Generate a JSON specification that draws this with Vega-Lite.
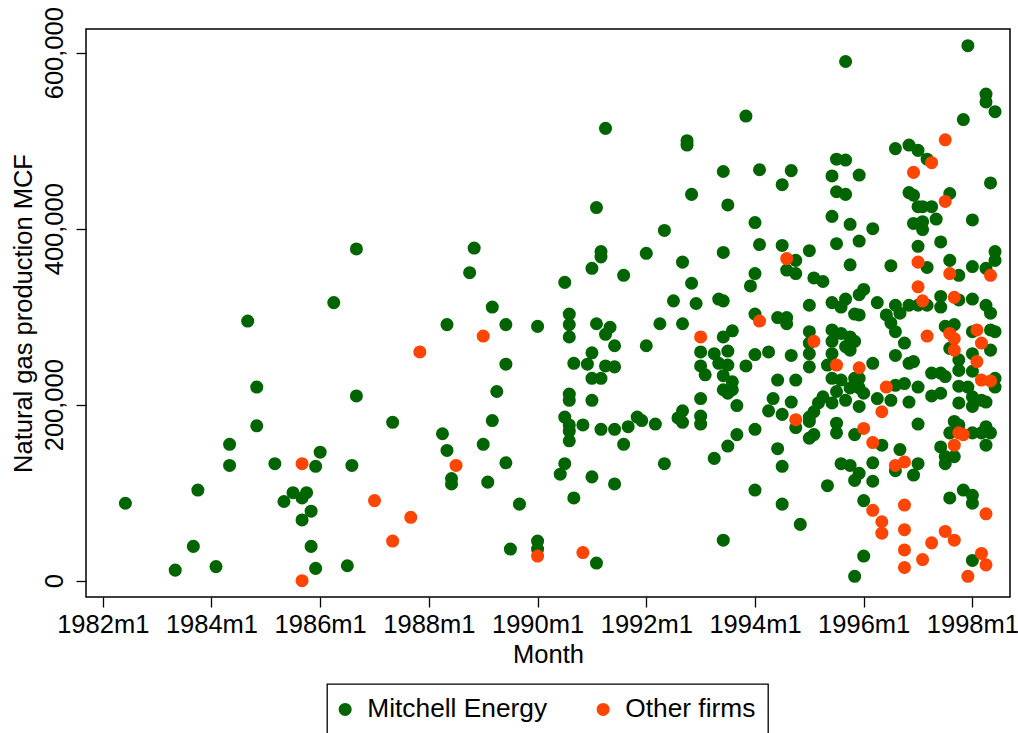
{
  "$schema": "https://vega.github.io/schema/vega-lite/v6.json",
  "width": 924,
  "height": 568,
  "autosize": {"type": "none"},
  "padding": {"left": 86, "top": 29, "right": 8, "bottom": 136},
  "background": "white",
  "data": {
    "values": [
      {"month": 320, "mcf": 377000, "firm": "Mitchell Energy"},
      {"month": 315, "mcf": 316000, "firm": "Mitchell Energy"},
      {"month": 296, "mcf": 295000, "firm": "Mitchell Energy"},
      {"month": 298, "mcf": 220000, "firm": "Mitchell Energy"},
      {"month": 320, "mcf": 210000, "firm": "Mitchell Energy"},
      {"month": 328, "mcf": 180000, "firm": "Mitchell Energy"},
      {"month": 298, "mcf": 176000, "firm": "Mitchell Energy"},
      {"month": 292, "mcf": 155000, "firm": "Mitchell Energy"},
      {"month": 312, "mcf": 146000, "firm": "Mitchell Energy"},
      {"month": 292, "mcf": 131000, "firm": "Mitchell Energy"},
      {"month": 302, "mcf": 133000, "firm": "Mitchell Energy"},
      {"month": 311, "mcf": 130000, "firm": "Mitchell Energy"},
      {"month": 319, "mcf": 131000, "firm": "Mitchell Energy"},
      {"month": 285, "mcf": 103000, "firm": "Mitchell Energy"},
      {"month": 269, "mcf": 88000, "firm": "Mitchell Energy"},
      {"month": 306, "mcf": 100000, "firm": "Mitchell Energy"},
      {"month": 309, "mcf": 100000, "firm": "Mitchell Energy"},
      {"month": 304, "mcf": 90000, "firm": "Mitchell Energy"},
      {"month": 308, "mcf": 94000, "firm": "Mitchell Energy"},
      {"month": 310, "mcf": 79000, "firm": "Mitchell Energy"},
      {"month": 308, "mcf": 69000, "firm": "Mitchell Energy"},
      {"month": 284, "mcf": 39000, "firm": "Mitchell Energy"},
      {"month": 310, "mcf": 39000, "firm": "Mitchell Energy"},
      {"month": 280, "mcf": 12000, "firm": "Mitchell Energy"},
      {"month": 289, "mcf": 16000, "firm": "Mitchell Energy"},
      {"month": 311, "mcf": 14000, "firm": "Mitchell Energy"},
      {"month": 318, "mcf": 17000, "firm": "Mitchell Energy"},
      {"month": 375, "mcf": 514000, "firm": "Mitchell Energy"},
      {"month": 373, "mcf": 424000, "firm": "Mitchell Energy"},
      {"month": 346, "mcf": 378000, "firm": "Mitchell Energy"},
      {"month": 345, "mcf": 350000, "firm": "Mitchell Energy"},
      {"month": 374, "mcf": 374000, "firm": "Mitchell Energy"},
      {"month": 374, "mcf": 368000, "firm": "Mitchell Energy"},
      {"month": 372, "mcf": 355000, "firm": "Mitchell Energy"},
      {"month": 379, "mcf": 347000, "firm": "Mitchell Energy"},
      {"month": 366, "mcf": 339000, "firm": "Mitchell Energy"},
      {"month": 350, "mcf": 311000, "firm": "Mitchell Energy"},
      {"month": 340, "mcf": 291000, "firm": "Mitchell Energy"},
      {"month": 353, "mcf": 291000, "firm": "Mitchell Energy"},
      {"month": 360, "mcf": 289000, "firm": "Mitchell Energy"},
      {"month": 367, "mcf": 303000, "firm": "Mitchell Energy"},
      {"month": 367, "mcf": 291000, "firm": "Mitchell Energy"},
      {"month": 367, "mcf": 277000, "firm": "Mitchell Energy"},
      {"month": 373, "mcf": 292000, "firm": "Mitchell Energy"},
      {"month": 376, "mcf": 288000, "firm": "Mitchell Energy"},
      {"month": 375, "mcf": 280000, "firm": "Mitchell Energy"},
      {"month": 377, "mcf": 267000, "firm": "Mitchell Energy"},
      {"month": 353, "mcf": 246000, "firm": "Mitchell Energy"},
      {"month": 372, "mcf": 259000, "firm": "Mitchell Energy"},
      {"month": 368, "mcf": 247000, "firm": "Mitchell Energy"},
      {"month": 371, "mcf": 246000, "firm": "Mitchell Energy"},
      {"month": 375, "mcf": 244000, "firm": "Mitchell Energy"},
      {"month": 377, "mcf": 243000, "firm": "Mitchell Energy"},
      {"month": 372, "mcf": 230000, "firm": "Mitchell Energy"},
      {"month": 374, "mcf": 230000, "firm": "Mitchell Energy"},
      {"month": 351, "mcf": 215000, "firm": "Mitchell Energy"},
      {"month": 367, "mcf": 212000, "firm": "Mitchell Energy"},
      {"month": 367, "mcf": 205000, "firm": "Mitchell Energy"},
      {"month": 372, "mcf": 205000, "firm": "Mitchell Energy"},
      {"month": 350, "mcf": 182000, "firm": "Mitchell Energy"},
      {"month": 366, "mcf": 186000, "firm": "Mitchell Energy"},
      {"month": 367, "mcf": 177000, "firm": "Mitchell Energy"},
      {"month": 367, "mcf": 170000, "firm": "Mitchell Energy"},
      {"month": 370, "mcf": 177000, "firm": "Mitchell Energy"},
      {"month": 374, "mcf": 172000, "firm": "Mitchell Energy"},
      {"month": 377, "mcf": 172000, "firm": "Mitchell Energy"},
      {"month": 380, "mcf": 175000, "firm": "Mitchell Energy"},
      {"month": 379, "mcf": 155000, "firm": "Mitchell Energy"},
      {"month": 367, "mcf": 159000, "firm": "Mitchell Energy"},
      {"month": 339, "mcf": 167000, "firm": "Mitchell Energy"},
      {"month": 340, "mcf": 148000, "firm": "Mitchell Energy"},
      {"month": 348, "mcf": 155000, "firm": "Mitchell Energy"},
      {"month": 353, "mcf": 134000, "firm": "Mitchell Energy"},
      {"month": 366, "mcf": 133000, "firm": "Mitchell Energy"},
      {"month": 365, "mcf": 121000, "firm": "Mitchell Energy"},
      {"month": 372, "mcf": 118000, "firm": "Mitchell Energy"},
      {"month": 377, "mcf": 110000, "firm": "Mitchell Energy"},
      {"month": 341, "mcf": 116000, "firm": "Mitchell Energy"},
      {"month": 341, "mcf": 110000, "firm": "Mitchell Energy"},
      {"month": 349, "mcf": 112000, "firm": "Mitchell Energy"},
      {"month": 368, "mcf": 94000, "firm": "Mitchell Energy"},
      {"month": 356, "mcf": 87000, "firm": "Mitchell Energy"},
      {"month": 354, "mcf": 36000, "firm": "Mitchell Energy"},
      {"month": 360, "mcf": 45000, "firm": "Mitchell Energy"},
      {"month": 360, "mcf": 36000, "firm": "Mitchell Energy"},
      {"month": 373, "mcf": 20000, "firm": "Mitchell Energy"},
      {"month": 406, "mcf": 528000, "firm": "Mitchell Energy"},
      {"month": 393, "mcf": 500000, "firm": "Mitchell Energy"},
      {"month": 393, "mcf": 495000, "firm": "Mitchell Energy"},
      {"month": 401, "mcf": 465000, "firm": "Mitchell Energy"},
      {"month": 409, "mcf": 467000, "firm": "Mitchell Energy"},
      {"month": 416, "mcf": 466000, "firm": "Mitchell Energy"},
      {"month": 414, "mcf": 450000, "firm": "Mitchell Energy"},
      {"month": 394, "mcf": 439000, "firm": "Mitchell Energy"},
      {"month": 402, "mcf": 427000, "firm": "Mitchell Energy"},
      {"month": 408, "mcf": 407000, "firm": "Mitchell Energy"},
      {"month": 388, "mcf": 398000, "firm": "Mitchell Energy"},
      {"month": 384, "mcf": 372000, "firm": "Mitchell Energy"},
      {"month": 401, "mcf": 373000, "firm": "Mitchell Energy"},
      {"month": 409, "mcf": 382000, "firm": "Mitchell Energy"},
      {"month": 414, "mcf": 381000, "firm": "Mitchell Energy"},
      {"month": 392, "mcf": 362000, "firm": "Mitchell Energy"},
      {"month": 408, "mcf": 349000, "firm": "Mitchell Energy"},
      {"month": 407, "mcf": 335000, "firm": "Mitchell Energy"},
      {"month": 394, "mcf": 338000, "firm": "Mitchell Energy"},
      {"month": 390, "mcf": 318000, "firm": "Mitchell Energy"},
      {"month": 395, "mcf": 315000, "firm": "Mitchell Energy"},
      {"month": 400, "mcf": 320000, "firm": "Mitchell Energy"},
      {"month": 401, "mcf": 318000, "firm": "Mitchell Energy"},
      {"month": 387, "mcf": 292000, "firm": "Mitchell Energy"},
      {"month": 392, "mcf": 292000, "firm": "Mitchell Energy"},
      {"month": 408, "mcf": 303000, "firm": "Mitchell Energy"},
      {"month": 413, "mcf": 299000, "firm": "Mitchell Energy"},
      {"month": 415, "mcf": 299000, "firm": "Mitchell Energy"},
      {"month": 415, "mcf": 292000, "firm": "Mitchell Energy"},
      {"month": 403, "mcf": 284000, "firm": "Mitchell Energy"},
      {"month": 401, "mcf": 277000, "firm": "Mitchell Energy"},
      {"month": 417, "mcf": 364000, "firm": "Mitchell Energy"},
      {"month": 417, "mcf": 349000, "firm": "Mitchell Energy"},
      {"month": 415, "mcf": 353000, "firm": "Mitchell Energy"},
      {"month": 384, "mcf": 267000, "firm": "Mitchell Energy"},
      {"month": 396, "mcf": 260000, "firm": "Mitchell Energy"},
      {"month": 399, "mcf": 258000, "firm": "Mitchell Energy"},
      {"month": 402, "mcf": 261000, "firm": "Mitchell Energy"},
      {"month": 408, "mcf": 257000, "firm": "Mitchell Energy"},
      {"month": 411, "mcf": 260000, "firm": "Mitchell Energy"},
      {"month": 416, "mcf": 256000, "firm": "Mitchell Energy"},
      {"month": 396, "mcf": 244000, "firm": "Mitchell Energy"},
      {"month": 397, "mcf": 234000, "firm": "Mitchell Energy"},
      {"month": 400, "mcf": 247000, "firm": "Mitchell Energy"},
      {"month": 402, "mcf": 245000, "firm": "Mitchell Energy"},
      {"month": 406, "mcf": 244000, "firm": "Mitchell Energy"},
      {"month": 401, "mcf": 233000, "firm": "Mitchell Energy"},
      {"month": 403, "mcf": 226000, "firm": "Mitchell Energy"},
      {"month": 401, "mcf": 217000, "firm": "Mitchell Energy"},
      {"month": 403, "mcf": 217000, "firm": "Mitchell Energy"},
      {"month": 402, "mcf": 213000, "firm": "Mitchell Energy"},
      {"month": 413, "mcf": 228000, "firm": "Mitchell Energy"},
      {"month": 417, "mcf": 228000, "firm": "Mitchell Energy"},
      {"month": 396, "mcf": 207000, "firm": "Mitchell Energy"},
      {"month": 404, "mcf": 199000, "firm": "Mitchell Energy"},
      {"month": 412, "mcf": 207000, "firm": "Mitchell Energy"},
      {"month": 416, "mcf": 203000, "firm": "Mitchell Energy"},
      {"month": 411, "mcf": 193000, "firm": "Mitchell Energy"},
      {"month": 414, "mcf": 189000, "firm": "Mitchell Energy"},
      {"month": 417, "mcf": 174000, "firm": "Mitchell Energy"},
      {"month": 392, "mcf": 193000, "firm": "Mitchell Energy"},
      {"month": 391, "mcf": 185000, "firm": "Mitchell Energy"},
      {"month": 392, "mcf": 180000, "firm": "Mitchell Energy"},
      {"month": 396, "mcf": 187000, "firm": "Mitchell Energy"},
      {"month": 396, "mcf": 178000, "firm": "Mitchell Energy"},
      {"month": 382, "mcf": 186000, "firm": "Mitchell Energy"},
      {"month": 383, "mcf": 182000, "firm": "Mitchell Energy"},
      {"month": 386, "mcf": 178000, "firm": "Mitchell Energy"},
      {"month": 388, "mcf": 133000, "firm": "Mitchell Energy"},
      {"month": 399, "mcf": 139000, "firm": "Mitchell Energy"},
      {"month": 402, "mcf": 153000, "firm": "Mitchell Energy"},
      {"month": 404, "mcf": 166000, "firm": "Mitchell Energy"},
      {"month": 408, "mcf": 172000, "firm": "Mitchell Energy"},
      {"month": 413, "mcf": 150000, "firm": "Mitchell Energy"},
      {"month": 414, "mcf": 130000, "firm": "Mitchell Energy"},
      {"month": 408, "mcf": 103000, "firm": "Mitchell Energy"},
      {"month": 414, "mcf": 87000, "firm": "Mitchell Energy"},
      {"month": 418, "mcf": 64000, "firm": "Mitchell Energy"},
      {"month": 401, "mcf": 46000, "firm": "Mitchell Energy"},
      {"month": 428, "mcf": 590000, "firm": "Mitchell Energy"},
      {"month": 439, "mcf": 491000, "firm": "Mitchell Energy"},
      {"month": 426, "mcf": 479000, "firm": "Mitchell Energy"},
      {"month": 428, "mcf": 478000, "firm": "Mitchell Energy"},
      {"month": 425, "mcf": 460000, "firm": "Mitchell Energy"},
      {"month": 431, "mcf": 461000, "firm": "Mitchell Energy"},
      {"month": 426, "mcf": 442000, "firm": "Mitchell Energy"},
      {"month": 428, "mcf": 439000, "firm": "Mitchell Energy"},
      {"month": 425, "mcf": 414000, "firm": "Mitchell Energy"},
      {"month": 429, "mcf": 405000, "firm": "Mitchell Energy"},
      {"month": 434, "mcf": 400000, "firm": "Mitchell Energy"},
      {"month": 426, "mcf": 383000, "firm": "Mitchell Energy"},
      {"month": 431, "mcf": 386000, "firm": "Mitchell Energy"},
      {"month": 429, "mcf": 359000, "firm": "Mitchell Energy"},
      {"month": 438, "mcf": 358000, "firm": "Mitchell Energy"},
      {"month": 420, "mcf": 375000, "firm": "Mitchell Energy"},
      {"month": 421, "mcf": 344000, "firm": "Mitchell Energy"},
      {"month": 423, "mcf": 340000, "firm": "Mitchell Energy"},
      {"month": 420, "mcf": 313000, "firm": "Mitchell Energy"},
      {"month": 425, "mcf": 316000, "firm": "Mitchell Energy"},
      {"month": 427, "mcf": 311000, "firm": "Mitchell Energy"},
      {"month": 428, "mcf": 320000, "firm": "Mitchell Energy"},
      {"month": 431, "mcf": 325000, "firm": "Mitchell Energy"},
      {"month": 432, "mcf": 331000, "firm": "Mitchell Energy"},
      {"month": 435, "mcf": 316000, "firm": "Mitchell Energy"},
      {"month": 430, "mcf": 303000, "firm": "Mitchell Energy"},
      {"month": 431, "mcf": 302000, "firm": "Mitchell Energy"},
      {"month": 437, "mcf": 302000, "firm": "Mitchell Energy"},
      {"month": 439, "mcf": 313000, "firm": "Mitchell Energy"},
      {"month": 420, "mcf": 283000, "firm": "Mitchell Energy"},
      {"month": 420, "mcf": 270000, "firm": "Mitchell Energy"},
      {"month": 425, "mcf": 285000, "firm": "Mitchell Energy"},
      {"month": 427, "mcf": 281000, "firm": "Mitchell Energy"},
      {"month": 429, "mcf": 277000, "firm": "Mitchell Energy"},
      {"month": 430, "mcf": 272000, "firm": "Mitchell Energy"},
      {"month": 425, "mcf": 272000, "firm": "Mitchell Energy"},
      {"month": 425, "mcf": 258000, "firm": "Mitchell Energy"},
      {"month": 428, "mcf": 266000, "firm": "Mitchell Energy"},
      {"month": 429, "mcf": 262000, "firm": "Mitchell Energy"},
      {"month": 420, "mcf": 258000, "firm": "Mitchell Energy"},
      {"month": 420, "mcf": 243000, "firm": "Mitchell Energy"},
      {"month": 434, "mcf": 247000, "firm": "Mitchell Energy"},
      {"month": 424, "mcf": 245000, "firm": "Mitchell Energy"},
      {"month": 425, "mcf": 230000, "firm": "Mitchell Energy"},
      {"month": 427, "mcf": 228000, "firm": "Mitchell Energy"},
      {"month": 430, "mcf": 230000, "firm": "Mitchell Energy"},
      {"month": 431, "mcf": 230000, "firm": "Mitchell Energy"},
      {"month": 429, "mcf": 219000, "firm": "Mitchell Energy"},
      {"month": 431, "mcf": 219000, "firm": "Mitchell Energy"},
      {"month": 432, "mcf": 213000, "firm": "Mitchell Energy"},
      {"month": 426, "mcf": 215000, "firm": "Mitchell Energy"},
      {"month": 425, "mcf": 202000, "firm": "Mitchell Energy"},
      {"month": 423, "mcf": 209000, "firm": "Mitchell Energy"},
      {"month": 422, "mcf": 202000, "firm": "Mitchell Energy"},
      {"month": 421, "mcf": 192000, "firm": "Mitchell Energy"},
      {"month": 420, "mcf": 186000, "firm": "Mitchell Energy"},
      {"month": 428, "mcf": 205000, "firm": "Mitchell Energy"},
      {"month": 431, "mcf": 198000, "firm": "Mitchell Energy"},
      {"month": 435, "mcf": 207000, "firm": "Mitchell Energy"},
      {"month": 438, "mcf": 205000, "firm": "Mitchell Energy"},
      {"month": 439, "mcf": 222000, "firm": "Mitchell Energy"},
      {"month": 420, "mcf": 181000, "firm": "Mitchell Energy"},
      {"month": 426, "mcf": 179000, "firm": "Mitchell Energy"},
      {"month": 426, "mcf": 168000, "firm": "Mitchell Energy"},
      {"month": 420, "mcf": 162000, "firm": "Mitchell Energy"},
      {"month": 421, "mcf": 166000, "firm": "Mitchell Energy"},
      {"month": 430, "mcf": 166000, "firm": "Mitchell Energy"},
      {"month": 436, "mcf": 154000, "firm": "Mitchell Energy"},
      {"month": 440, "mcf": 149000, "firm": "Mitchell Energy"},
      {"month": 427, "mcf": 133000, "firm": "Mitchell Energy"},
      {"month": 429, "mcf": 131000, "firm": "Mitchell Energy"},
      {"month": 431, "mcf": 122000, "firm": "Mitchell Energy"},
      {"month": 430, "mcf": 114000, "firm": "Mitchell Energy"},
      {"month": 434, "mcf": 134000, "firm": "Mitchell Energy"},
      {"month": 434, "mcf": 113000, "firm": "Mitchell Energy"},
      {"month": 424, "mcf": 108000, "firm": "Mitchell Energy"},
      {"month": 439, "mcf": 125000, "firm": "Mitchell Energy"},
      {"month": 432, "mcf": 91000, "firm": "Mitchell Energy"},
      {"month": 432, "mcf": 28000, "firm": "Mitchell Energy"},
      {"month": 430, "mcf": 5000, "firm": "Mitchell Energy"},
      {"month": 455, "mcf": 608000, "firm": "Mitchell Energy"},
      {"month": 459, "mcf": 553000, "firm": "Mitchell Energy"},
      {"month": 459, "mcf": 544000, "firm": "Mitchell Energy"},
      {"month": 461, "mcf": 533000, "firm": "Mitchell Energy"},
      {"month": 454, "mcf": 524000, "firm": "Mitchell Energy"},
      {"month": 442, "mcf": 495000, "firm": "Mitchell Energy"},
      {"month": 444, "mcf": 489000, "firm": "Mitchell Energy"},
      {"month": 446, "mcf": 479000, "firm": "Mitchell Energy"},
      {"month": 460, "mcf": 452000, "firm": "Mitchell Energy"},
      {"month": 442, "mcf": 441000, "firm": "Mitchell Energy"},
      {"month": 443, "mcf": 438000, "firm": "Mitchell Energy"},
      {"month": 451, "mcf": 440000, "firm": "Mitchell Energy"},
      {"month": 444, "mcf": 425000, "firm": "Mitchell Energy"},
      {"month": 445, "mcf": 425000, "firm": "Mitchell Energy"},
      {"month": 447, "mcf": 425000, "firm": "Mitchell Energy"},
      {"month": 443, "mcf": 406000, "firm": "Mitchell Energy"},
      {"month": 445, "mcf": 408000, "firm": "Mitchell Energy"},
      {"month": 445, "mcf": 399000, "firm": "Mitchell Energy"},
      {"month": 448, "mcf": 411000, "firm": "Mitchell Energy"},
      {"month": 456, "mcf": 410000, "firm": "Mitchell Energy"},
      {"month": 444, "mcf": 380000, "firm": "Mitchell Energy"},
      {"month": 449, "mcf": 385000, "firm": "Mitchell Energy"},
      {"month": 446, "mcf": 356000, "firm": "Mitchell Energy"},
      {"month": 451, "mcf": 364000, "firm": "Mitchell Energy"},
      {"month": 453, "mcf": 347000, "firm": "Mitchell Energy"},
      {"month": 456, "mcf": 357000, "firm": "Mitchell Energy"},
      {"month": 459, "mcf": 355000, "firm": "Mitchell Energy"},
      {"month": 461, "mcf": 374000, "firm": "Mitchell Energy"},
      {"month": 461, "mcf": 364000, "firm": "Mitchell Energy"},
      {"month": 440, "mcf": 304000, "firm": "Mitchell Energy"},
      {"month": 442, "mcf": 313000, "firm": "Mitchell Energy"},
      {"month": 444, "mcf": 313000, "firm": "Mitchell Energy"},
      {"month": 446, "mcf": 313000, "firm": "Mitchell Energy"},
      {"month": 449, "mcf": 323000, "firm": "Mitchell Energy"},
      {"month": 449, "mcf": 311000, "firm": "Mitchell Energy"},
      {"month": 453, "mcf": 319000, "firm": "Mitchell Energy"},
      {"month": 456, "mcf": 320000, "firm": "Mitchell Energy"},
      {"month": 459, "mcf": 313000, "firm": "Mitchell Energy"},
      {"month": 460, "mcf": 304000, "firm": "Mitchell Energy"},
      {"month": 438, "mcf": 293000, "firm": "Mitchell Energy"},
      {"month": 439, "mcf": 283000, "firm": "Mitchell Energy"},
      {"month": 441, "mcf": 270000, "firm": "Mitchell Energy"},
      {"month": 439, "mcf": 256000, "firm": "Mitchell Energy"},
      {"month": 442, "mcf": 247000, "firm": "Mitchell Energy"},
      {"month": 443, "mcf": 249000, "firm": "Mitchell Energy"},
      {"month": 450, "mcf": 289000, "firm": "Mitchell Energy"},
      {"month": 452, "mcf": 291000, "firm": "Mitchell Energy"},
      {"month": 451, "mcf": 264000, "firm": "Mitchell Energy"},
      {"month": 456, "mcf": 283000, "firm": "Mitchell Energy"},
      {"month": 460, "mcf": 285000, "firm": "Mitchell Energy"},
      {"month": 461, "mcf": 283000, "firm": "Mitchell Energy"},
      {"month": 460, "mcf": 262000, "firm": "Mitchell Energy"},
      {"month": 456, "mcf": 258000, "firm": "Mitchell Energy"},
      {"month": 453, "mcf": 251000, "firm": "Mitchell Energy"},
      {"month": 453, "mcf": 239000, "firm": "Mitchell Energy"},
      {"month": 456, "mcf": 238000, "firm": "Mitchell Energy"},
      {"month": 461, "mcf": 230000, "firm": "Mitchell Energy"},
      {"month": 461, "mcf": 220000, "firm": "Mitchell Energy"},
      {"month": 447, "mcf": 236000, "firm": "Mitchell Energy"},
      {"month": 449, "mcf": 236000, "firm": "Mitchell Energy"},
      {"month": 450, "mcf": 232000, "firm": "Mitchell Energy"},
      {"month": 441, "mcf": 224000, "firm": "Mitchell Energy"},
      {"month": 444, "mcf": 220000, "firm": "Mitchell Energy"},
      {"month": 447, "mcf": 210000, "firm": "Mitchell Energy"},
      {"month": 449, "mcf": 213000, "firm": "Mitchell Energy"},
      {"month": 453, "mcf": 221000, "firm": "Mitchell Energy"},
      {"month": 455, "mcf": 220000, "firm": "Mitchell Energy"},
      {"month": 456, "mcf": 209000, "firm": "Mitchell Energy"},
      {"month": 456, "mcf": 198000, "firm": "Mitchell Energy"},
      {"month": 458, "mcf": 205000, "firm": "Mitchell Energy"},
      {"month": 459, "mcf": 203000, "firm": "Mitchell Energy"},
      {"month": 442, "mcf": 203000, "firm": "Mitchell Energy"},
      {"month": 453, "mcf": 202000, "firm": "Mitchell Energy"},
      {"month": 444, "mcf": 178000, "firm": "Mitchell Energy"},
      {"month": 452, "mcf": 181000, "firm": "Mitchell Energy"},
      {"month": 453, "mcf": 177000, "firm": "Mitchell Energy"},
      {"month": 451, "mcf": 168000, "firm": "Mitchell Energy"},
      {"month": 456, "mcf": 168000, "firm": "Mitchell Energy"},
      {"month": 458, "mcf": 168000, "firm": "Mitchell Energy"},
      {"month": 459, "mcf": 175000, "firm": "Mitchell Energy"},
      {"month": 460, "mcf": 168000, "firm": "Mitchell Energy"},
      {"month": 459, "mcf": 154000, "firm": "Mitchell Energy"},
      {"month": 449, "mcf": 152000, "firm": "Mitchell Energy"},
      {"month": 450, "mcf": 141000, "firm": "Mitchell Energy"},
      {"month": 450, "mcf": 133000, "firm": "Mitchell Energy"},
      {"month": 452, "mcf": 141000, "firm": "Mitchell Energy"},
      {"month": 444, "mcf": 133000, "firm": "Mitchell Energy"},
      {"month": 443, "mcf": 120000, "firm": "Mitchell Energy"},
      {"month": 451, "mcf": 94000, "firm": "Mitchell Energy"},
      {"month": 454, "mcf": 103000, "firm": "Mitchell Energy"},
      {"month": 456, "mcf": 97000, "firm": "Mitchell Energy"},
      {"month": 456, "mcf": 88000, "firm": "Mitchell Energy"},
      {"month": 456, "mcf": 23000, "firm": "Mitchell Energy"},
      {"month": 308, "mcf": 133000, "firm": "Other firms"},
      {"month": 324, "mcf": 91000, "firm": "Other firms"},
      {"month": 328, "mcf": 45000, "firm": "Other firms"},
      {"month": 308, "mcf": 0, "firm": "Other firms"},
      {"month": 348, "mcf": 278000, "firm": "Other firms"},
      {"month": 334, "mcf": 260000, "firm": "Other firms"},
      {"month": 342, "mcf": 131000, "firm": "Other firms"},
      {"month": 332, "mcf": 72000, "firm": "Other firms"},
      {"month": 360, "mcf": 28000, "firm": "Other firms"},
      {"month": 370, "mcf": 32000, "firm": "Other firms"},
      {"month": 415, "mcf": 366000, "firm": "Other firms"},
      {"month": 409, "mcf": 295000, "firm": "Other firms"},
      {"month": 396, "mcf": 277000, "firm": "Other firms"},
      {"month": 417, "mcf": 183000, "firm": "Other firms"},
      {"month": 421, "mcf": 272000, "firm": "Other firms"},
      {"month": 426, "mcf": 245000, "firm": "Other firms"},
      {"month": 431, "mcf": 242000, "firm": "Other firms"},
      {"month": 437, "mcf": 220000, "firm": "Other firms"},
      {"month": 432, "mcf": 173000, "firm": "Other firms"},
      {"month": 434, "mcf": 157000, "firm": "Other firms"},
      {"month": 436, "mcf": 192000, "firm": "Other firms"},
      {"month": 439, "mcf": 131000, "firm": "Other firms"},
      {"month": 434, "mcf": 80000, "firm": "Other firms"},
      {"month": 436, "mcf": 67000, "firm": "Other firms"},
      {"month": 436, "mcf": 54000, "firm": "Other firms"},
      {"month": 450, "mcf": 501000, "firm": "Other firms"},
      {"month": 447, "mcf": 475000, "firm": "Other firms"},
      {"month": 443, "mcf": 464000, "firm": "Other firms"},
      {"month": 450, "mcf": 431000, "firm": "Other firms"},
      {"month": 444, "mcf": 362000, "firm": "Other firms"},
      {"month": 451, "mcf": 349000, "firm": "Other firms"},
      {"month": 460, "mcf": 347000, "firm": "Other firms"},
      {"month": 444, "mcf": 334000, "firm": "Other firms"},
      {"month": 445, "mcf": 318000, "firm": "Other firms"},
      {"month": 452, "mcf": 322000, "firm": "Other firms"},
      {"month": 446, "mcf": 278000, "firm": "Other firms"},
      {"month": 451, "mcf": 281000, "firm": "Other firms"},
      {"month": 452, "mcf": 275000, "firm": "Other firms"},
      {"month": 452, "mcf": 262000, "firm": "Other firms"},
      {"month": 457, "mcf": 285000, "firm": "Other firms"},
      {"month": 458, "mcf": 270000, "firm": "Other firms"},
      {"month": 457, "mcf": 249000, "firm": "Other firms"},
      {"month": 458, "mcf": 228000, "firm": "Other firms"},
      {"month": 460, "mcf": 227000, "firm": "Other firms"},
      {"month": 453, "mcf": 168000, "firm": "Other firms"},
      {"month": 454, "mcf": 166000, "firm": "Other firms"},
      {"month": 452, "mcf": 154000, "firm": "Other firms"},
      {"month": 441, "mcf": 135000, "firm": "Other firms"},
      {"month": 459, "mcf": 76000, "firm": "Other firms"},
      {"month": 441, "mcf": 86000, "firm": "Other firms"},
      {"month": 441, "mcf": 58000, "firm": "Other firms"},
      {"month": 441, "mcf": 35000, "firm": "Other firms"},
      {"month": 441, "mcf": 15000, "firm": "Other firms"},
      {"month": 445, "mcf": 24000, "firm": "Other firms"},
      {"month": 447, "mcf": 43000, "firm": "Other firms"},
      {"month": 450, "mcf": 56000, "firm": "Other firms"},
      {"month": 452, "mcf": 46000, "firm": "Other firms"},
      {"month": 458, "mcf": 31000, "firm": "Other firms"},
      {"month": 459, "mcf": 18000, "firm": "Other firms"},
      {"month": 455, "mcf": 5000, "firm": "Other firms"}
    ]
  },
  "mark": {"type": "point", "filled": true, "shape": "circle", "size": 170, "opacity": 1, "strokeWidth": 0},
  "encoding": {
    "x": {
      "field": "month",
      "type": "quantitative",
      "scale": {"domain": [260.3, 464.3], "nice": false, "zero": false},
      "axis": {
        "title": "Month",
        "values": [264, 288, 312, 336, 360, 384, 408, 432, 456],
        "labelExpr": "(floor(datum.value / 12) + 1960) + 'm' + (datum.value % 12 + 1)",
        "labelBaseline": "alphabetic",
        "labelPadding": 25,
        "titleX": 462,
        "titleY": 65,
        "titleBaseline": "alphabetic",
        "titleAlign": "center"
      }
    },
    "y": {
      "field": "mcf",
      "type": "quantitative",
      "scale": {"domain": [-18520, 626930], "nice": false, "zero": false},
      "axis": {
        "title": "Natural gas production MCF",
        "values": [0, 200000, 400000, 600000],
        "format": ",.0f",
        "labelAngle": -90,
        "labelAlign": "center",
        "labelBaseline": "alphabetic",
        "labelPadding": 13.5,
        "titleAngle": 270,
        "titleX": -54.5,
        "titleY": 284,
        "titleAlign": "center",
        "titleBaseline": "alphabetic"
      }
    },
    "color": {
      "field": "firm",
      "type": "nominal",
      "scale": {"domain": ["Mitchell Energy", "Other firms"], "range": ["#006400", "#FF4500"]},
      "legend": {"title": null}
    }
  },
  "config": {
    "view": {"stroke": "black", "strokeWidth": 1.5},
    "font": "Liberation Sans",
    "axis": {
      "domain": false,
      "grid": false,
      "ticks": true,
      "tickSize": 10,
      "tickWidth": 1.3,
      "tickColor": "black",
      "labelFont": "Liberation Sans",
      "labelFontSize": 25.5,
      "labelColor": "black",
      "labelFlush": false,
      "labelOverlap": false,
      "titleFont": "Liberation Sans",
      "titleFontSize": 25.5,
      "titleFontWeight": "normal",
      "titleColor": "black"
    },
    "legend": {
      "orient": "none",
      "legendX": 241,
      "legendY": 655,
      "direction": "horizontal",
      "strokeColor": "black",
      "strokeWidth": 1.3,
      "fillColor": "white",
      "padding": 12,
      "labelFont": "Liberation Sans",
      "labelFontSize": 26.3,
      "labelColor": "black",
      "labelLimit": 0,
      "labelOffset": 9,
      "symbolOffset": -7,
      "columnPadding": 48,
      "symbolType": "circle",
      "symbolSize": 170,
      "symbolStrokeWidth": 0
    }
  }
}
